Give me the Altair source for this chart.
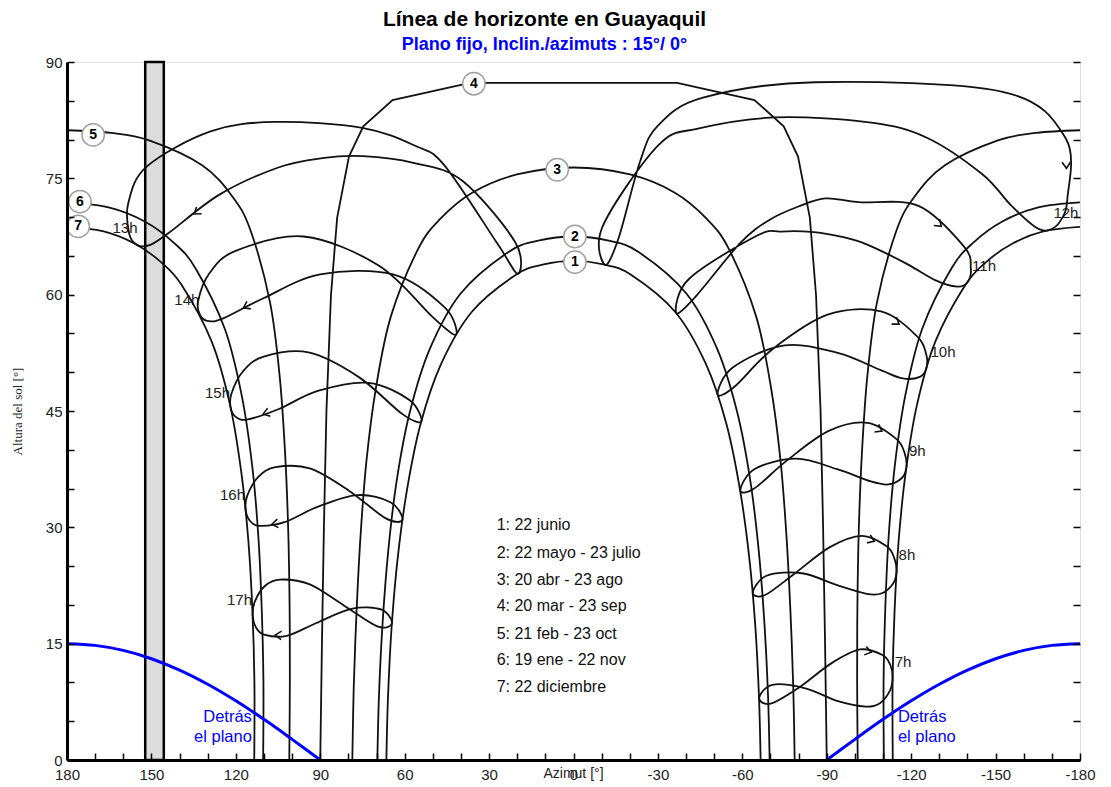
import altair as alt
import pandas as pd

# ---------------- values ----------------
# Day sun paths, afternoon half (azimuth in deg, sun height in deg).
# The morning half of every path is the mirror image (negative azimuths).
c1_az = [0, 10.6, 20.3, 36.1, 47.0, 54.3, 59.1, 62.4, 64.6, 65.9, 66.5]
c1_alt = [64.35, 63.9, 62.6, 57.8, 51.1, 43.4, 35.0, 26.3, 17.35, 8.3, 0]
c2_az = [0, 12.1, 23.1, 40.1, 51.1, 58.2, 62.8, 65.8, 67.8, 69.1, 69.7]
c2_alt = [67.5, 67.0, 65.5, 60.15, 52.97, 44.8, 36.1, 27.1, 17.9, 8.6, 0]
c3_az = [0, 20.1, 36.0, 47.3, 55.2, 64.9, 70.2, 73.6, 75.7, 77.1, 78.1, 78.6]
c3_alt = [76.4, 75.5, 73.15, 69.8, 65.9, 57.2, 48.0, 38.5, 28.8, 19.1, 9.35, 0]
c4_az = [36.8, 64.3, 74.7, 79.8, 84.0, 86.2, 87.8, 88.7, 89.4, 90.0]
c4_alt = [87.3, 85.1, 81.7, 77.8, 69.9, 59.9, 45.0, 30.0, 15.0, 0]
c5_az = [180, 164.4, 150.8, 132.0, 121.3, 114.8, 107.85, 104.4, 102.5, 101.4, 100.9, 100.8, 101.0]
c5_alt = [81.2, 80.86, 79.9, 76.7, 72.7, 68.3, 59.0, 49.4, 39.6, 29.85, 20.05, 10.2, 0]
c6_az = [180, 165.2, 152.4, 142.1, 134.3, 123.9, 117.9, 114.2, 112.0, 110.8, 110.2, 110.3]
c6_alt = [71.9, 71.25, 69.44, 66.72, 63.38, 55.58, 46.99, 38.0, 28.81, 19.5, 10.14, 0]
c7_az = [180, 167.3, 156.2, 146.8, 139.25, 128.65, 122.1, 118.1, 115.55, 114.1, 113.4, 113.46]
c7_alt = [68.75, 68.19, 66.63, 64.26, 61.25, 54.01, 45.85, 37.2, 28.27, 19.2, 10.05, 0]

# Hour lines (analemmas), points in calendar order starting at 21 December
h07_az = [-113.4, -112.5, -108.9, -103.8, -94.0, -82.4, -70.7, -66.0, -70.0, -79.9, -91.6, -101.8, -109.8, -112.6]
h07_alt = [10.6, 8.97, 7.33, 6.89, 7.59, 9.24, 9.70, 8.00, 7.26, 9.28, 12.46, 14.25, 13.54, 12.25]
h08_az = [-114.8, -113.6, -109.6, -104.2, -93.7, -81.2, -68.6, -63.7, -68.1, -78.5, -91.1, -102.5, -111.2, -114.0]
h08_alt = [24.29, 22.77, 21.5, 21.43, 22.54, 24.08, 23.76, 21.58, 21.27, 24.01, 27.45, 28.9, 27.58, 26.03]
h09_az = [-118.3, -116.7, -111.9, -105.7, -93.7, -79.1, -64.4, -59.3, -64.2, -75.9, -90.7, -104.5, -114.7, -117.7]
h09_alt = [37.72, 36.36, 35.53, 35.92, 37.5, 38.85, 37.53, 34.77, 35.0, 38.63, 42.43, 43.48, 41.4, 39.54]
h10_az = [-125.4, -123.1, -117.0, -109.4, -94.2, -75.0, -56.6, -51.2, -57.1, -70.8, -90.3, -109.3, -122.1, -125.3]
h10_alt = [50.5, 49.4, 49.2, 50.23, 52.46, 53.47, 50.61, 47.13, 48.1, 53.0, 57.42, 57.84, 54.63, 52.37]
h11_az = [-140.1, -136.4, -128.3, -118.3, -104.6, -95.9, -84.5, -73.8, -65.3, -41.1, -36.5, -43.3, -59.3,
          -69.6, -80.3, -89.7, -101.4, -122.6, -138.8, -141.2]
h11_alt = [61.64, 61.03, 61.91, 64.0, 66.43, 67.41, 68.1, 68.14, 67.62, 62.05, 57.63, 59.72, 66.67,
           69.64, 71.42, 72.41, 71.92, 71.45, 66.19, 63.42]
h12_az = [-168.9, -164.1, -155.6, -145.2, -125.4, -105.8, -72.2, -44.6, -30.1, -10.4, -11.2, -16.1, -23.6,
          -30.0, -46.0, -85.7, -152.5, -174.9, -175.5, -173.1]
h12_alt = [68.33, 68.73, 71.47, 75.55, 80.27, 82.18, 82.86, 81.44, 79.25, 68.84, 63.83, 67.37, 77.11,
           81.8, 85.4, 87.39, 86.16, 80.16, 72.34, 69.55]
h13_az = [155.0, 157.9, 158.2, 151.6, 129.0, 106.0, 75.1, 55.9, 45.8, 27.0, 19.8, 20.7, 39.5,
          56.9, 74.8, 89.3, 104.9, 125.7, 143.9, 150.4]
h13_alt = [66.39, 67.87, 71.84, 76.54, 81.06, 82.27, 81.51, 79.13, 76.64, 66.56, 62.67, 66.75, 74.69,
           77.0, 77.86, 77.6, 76.4, 72.93, 67.94, 66.42]
h14_az = [132.7, 133.4, 129.5, 120.1, 95.9, 69.1, 49.8, 41.8, 45.7, 64.1, 90.1, 110.2, 124.3, 129.6]
h14_alt = [57.35, 59.19, 62.69, 65.64, 67.5, 63.73, 57.03, 54.84, 58.32, 62.62, 62.61, 59.54, 56.97, 56.58]
h15_az = [121.8, 121.6, 117.5, 110.1, 94.2, 76.4, 60.9, 54.1, 58.3, 72.8, 90.6, 104.9, 115.7, 119.8]
h15_alt = [45.34, 47.2, 50.09, 52.02, 52.55, 49.4, 44.63, 43.63, 46.41, 48.63, 47.62, 45.23, 43.93, 44.18]
h16_az = [116.5, 116.0, 112.1, 106.0, 93.7, 79.8, 66.7, 60.8, 64.9, 76.8, 91.0, 102.7, 111.7, 115.0]
h16_alt = [32.22, 34.03, 36.46, 37.75, 37.6, 34.73, 31.15, 30.96, 33.2, 34.16, 32.64, 30.66, 30.19, 30.85]
h17_az = [114.0, 113.3, 109.7, 104.3, 93.7, 81.6, 69.7, 64.5, 68.4, 79.0, 91.4, 101.9, 110.0, 112.9]
h17_alt = [18.65, 20.39, 22.44, 23.27, 22.64, 19.93, 17.22, 17.62, 19.41, 19.5, 17.66, 16.01, 16.17, 17.13]

# Direction arrows on the hour lines
arrow_az = [-105.8, -106.9, -109.6, -115.7, -130.7, -175.2, 134.8, 117.3, 110.3, 107.2, 106.0]
arrow_alt = [13.9, 28.2, 42.4, 56.2, 68.8, 76.3, 70.4, 58.3, 44.6, 30.4, 16.1]
arrow_angle = [14, 23, 29, 35, 42, 88, 143, 153, 162, 172, 183]

# "Behind the plane" limit (west half; east half mirrors it)
behind_az = [180, 170, 160, 150, 140, 130, 120, 110, 100, 90]
behind_alt = [15.0, 14.78, 14.13, 13.06, 11.6, 9.77, 7.63, 5.24, 2.66, 0]

# Horizon obstacle (grey band)
obstacle_az_from = [152.2]
obstacle_az_to = [145.6]
obstacle_alt_to = [90]

# Hour labels
hour_text = ["7h", "8h", "9h", "10h", "11h", "12h", "13h", "14h", "15h", "16h", "17h"]
hour_az = [-117.1, -118.5, -122.2, -131.3, -145.9, -175.0, 159.4, 137.4, 126.5, 121.2, 118.7]
hour_alt = [12.6, 26.4, 39.8, 52.6, 63.7, 70.5, 68.6, 59.3, 47.3, 34.2, 20.6]

# Numbered day-curve markers
mark_text_num = ["1", "2", "3", "4", "5", "6", "7"]
mark_az = [-0.5, -0.5, 5.8, 35.4, 170.7, 175.4, 176.0]
mark_alt = [64.2, 67.5, 76.1, 87.2, 80.6, 72.0, 68.8]

# Legend of the day curves
legend_text = ["1: 22 junio", "2: 22 mayo - 23 julio", "3: 20 abr - 23 ago", "4: 20 mar - 23 sep",
               "5: 21 feb - 23 oct", "6: 19 ene - 22 nov", "7: 22 diciembre"]
legend_az = [27.3, 27.3, 27.3, 27.3, 27.3, 27.3, 27.3]
legend_alt = [30.3, 26.7, 23.2, 19.8, 16.3, 12.9, 9.45]

behind_label_west = ["Detrás", "el plano"]
behind_label_east = ["Detrás", "el plano"]
behind_label_az_west = [114.3, 114.3]
behind_label_az_east = [-115.3, -115.3]
behind_label_alt = [5.5, 2.97]

x_tick_labels = [180, 150, 120, 90, 60, 30, 0, -30, -60, -90, -120, -150, -180]
x_ticks_minor = [180, 170, 160, 150, 140, 130, 120, 110, 100, 90, 80, 70, 60, 50, 40, 30, 20, 10, 0,
                 -10, -20, -30, -40, -50, -60, -70, -80, -90, -100, -110, -120, -130, -140, -150,
                 -160, -170, -180]
y_tick_labels = [0, 15, 30, 45, 60, 75, 90]
y_ticks_minor = [0, 5, 10, 15, 20, 25, 30, 35, 40, 45, 50, 55, 60, 65, 70, 75, 80, 85, 90]


# ---------------- table building ----------------
def rows(g, az, el):
    return [{"g": g, "i": k, "az": a, "el": e} for k, (a, e) in enumerate(zip(az, el))]


def mirrored(az, el, shared_noon):
    am_az = [-a for a in reversed(az)]
    am_el = list(reversed(el))
    if shared_noon:
        return am_az + az[1:], am_el + el[1:]
    return am_az + az, am_el + el


def neg(values):
    return [-v for v in values]


white_df = pd.DataFrame(
    rows("mid", *mirrored(c1_az, c1_alt, True))
    + rows("left", c7_az, c7_alt)
    + rows("right", neg(c7_az), c7_alt)
)
day_df = pd.DataFrame(
    rows("c1", *mirrored(c1_az, c1_alt, True))
    + rows("c2", *mirrored(c2_az, c2_alt, True))
    + rows("c3", *mirrored(c3_az, c3_alt, True))
    + rows("c5pm", c5_az, c5_alt) + rows("c5am", neg(c5_az), c5_alt)
    + rows("c6pm", c6_az, c6_alt) + rows("c6am", neg(c6_az), c6_alt)
    + rows("c7pm", c7_az, c7_alt) + rows("c7am", neg(c7_az), c7_alt)
)
c4_df = pd.DataFrame(rows("c4", *mirrored(c4_az, c4_alt, False)))
hour_df = pd.DataFrame(
    rows("h07", h07_az, h07_alt) + rows("h08", h08_az, h08_alt) + rows("h09", h09_az, h09_alt)
    + rows("h10", h10_az, h10_alt) + rows("h11", h11_az, h11_alt) + rows("h12", h12_az, h12_alt)
    + rows("h13", h13_az, h13_alt) + rows("h14", h14_az, h14_alt) + rows("h15", h15_az, h15_alt)
    + rows("h16", h16_az, h16_alt) + rows("h17", h17_az, h17_alt)
)
blue_df = pd.DataFrame(rows("w", behind_az, behind_alt) + rows("e", neg(behind_az), behind_alt))
arrow_df = pd.DataFrame({"az": arrow_az, "el": arrow_alt, "ang": arrow_angle})
obst_df = pd.DataFrame({"a1": obstacle_az_from, "a2": obstacle_az_to, "e2": obstacle_alt_to, "e1": [0]})
hourlab_df = pd.DataFrame({"az": hour_az, "el": hour_alt, "t": hour_text})
marks_df = pd.DataFrame({"az": mark_az, "el": mark_alt, "t": mark_text_num})
legend_df = pd.DataFrame({"az": legend_az, "el": legend_alt, "t": legend_text})
bw_df = pd.DataFrame({"az": behind_label_az_west, "el": behind_label_alt, "t": behind_label_west})
be_df = pd.DataFrame({"az": behind_label_az_east, "el": behind_label_alt, "t": behind_label_east})

# ---------------- chart ----------------
FONT = "Liberation Sans"
LINE = "#111111"
LW = 1.8
xs = alt.Scale(domain=[180, -180], nice=False, zero=False)
ys = alt.Scale(domain=[0, 90], nice=False, zero=False)

x_main = alt.Axis(orient="bottom", values=x_tick_labels, labelExpr="'' + datum.value", ticks=False,
                  domain=True, domainColor="black", domainWidth=3, labelFont=FONT, labelFontSize=15,
                  labelColor="#222222", labelPadding=7, labelFlush=False, labelOverlap=False, grid=False,
                  title="Azimut [°]", titleFont=FONT, titleFontSize=14, titleFontWeight="normal",
                  titleColor="#222222", titleX=506, titleY=13, titleBaseline="middle", titleAlign="center",
                  zindex=2)
y_main = alt.Axis(orient="left", values=y_tick_labels, ticks=False, domain=True, domainColor="black",
                  domainWidth=3, labelFont=FONT, labelFontSize=15, labelColor="#222222", labelPadding=5,
                  labelFlush=False, labelOverlap=False, grid=False, title="Altura del sol [°]",
                  titleFont="Liberation Serif", titleFontSize=13, titleFontWeight="normal",
                  titleColor="#222222", titleX=-50, titleY=349, titleAngle=270, titleAlign="center",
                  titleBaseline="middle", zindex=2)
x_minor = alt.Axis(orient="bottom", offset=-7, values=x_ticks_minor, tickSize=7, tickWidth=1.5,
                   tickColor="black", labels=False, domain=False, grid=False, title="", zindex=2)
y_minor_l = alt.Axis(orient="left", offset=-7, values=y_ticks_minor, tickSize=7, tickWidth=1.5,
                     tickColor="black", labels=False, domain=False, grid=False, title="", zindex=2)
y_minor_r = alt.Axis(orient="right", offset=-7, values=y_ticks_minor, tickSize=7, tickWidth=1.5,
                     tickColor="black", labels=False, domain=False, grid=False, title="", zindex=2)


def X(axis=None, field="az"):
    return alt.X(f"{field}:Q", scale=xs, axis=axis)


def Y(axis=None, field="el"):
    return alt.Y(f"{field}:Q", scale=ys, axis=axis)


white = alt.Chart(white_df).mark_area(color="white", interpolate="cardinal", clip=True).encode(
    x=X(x_main), y=Y(y_main), y2=alt.datum(0), detail="g:N", order="i:Q")

obstacle = alt.Chart(obst_df).mark_rect(fill="#dcdcdc", stroke="black", strokeWidth=2.5).encode(
    x=X(x_minor, "a1"), x2="a2:Q", y=Y(y_minor_l, "e1"), y2="e2:Q")

hour_labels = alt.Chart(hourlab_df).mark_text(font=FONT, fontSize=15, color="#222222").encode(
    x=X(), y=Y(), text="t:N")

day_lines = alt.Chart(day_df).mark_line(color=LINE, strokeWidth=LW, interpolate="cardinal",
                                          clip=True).encode(x=X(), y=Y(), detail="g:N", order="i:Q")

c4_line = alt.Chart(c4_df).mark_line(color=LINE, strokeWidth=LW, clip=True).encode(
    x=X(), y=Y(), detail="g:N", order="i:Q")

hour_lines = alt.Chart(hour_df).mark_line(color=LINE, strokeWidth=LW, interpolate="cardinal-closed",
                                            clip=True).encode(x=X(), y=Y(), detail="g:N", order="i:Q")

blue = alt.Chart(blue_df).mark_line(color="#0000ff", strokeWidth=3, interpolate="cardinal", clip=True).encode(
    x=X(), y=Y(y_minor_r), detail="g:N", order="i:Q")

arrows = alt.Chart(arrow_df).mark_point(shape="M -1 -0.7 L 0 0 L -1 0.7", filled=False, color=LINE,
                                         strokeWidth=1.6, size=150, opacity=1).encode(
    x=X(), y=Y(), angle=alt.Angle("ang:Q", scale=None))

circles = alt.Chart(marks_df).mark_point(shape="circle", filled=True, fill="white", stroke="#a0a0a0",
                                          strokeWidth=1.5, size=500, opacity=1).encode(x=X(), y=Y())
circle_text = alt.Chart(marks_df).mark_text(font=FONT, fontSize=14, fontWeight="bold", color="black").encode(
    x=X(), y=Y(), text="t:N")

legend = alt.Chart(legend_df).mark_text(font=FONT, fontSize=16, align="left", baseline="middle",
                                        color="#111111").encode(x=X(), y=Y(), text="t:N")

blue_w = alt.Chart(bw_df).mark_text(font=FONT, fontSize=16.5, align="right", baseline="middle",
                                    color="#0000ff").encode(x=X(), y=Y(), text="t:N")
blue_e = alt.Chart(be_df).mark_text(font=FONT, fontSize=16.5, align="left", baseline="middle",
                                    color="#0000ff").encode(x=X(), y=Y(), text="t:N")

chart = alt.layer(
    white, obstacle, hour_labels, day_lines, c4_line, hour_lines, blue, arrows,
    circles, circle_text, legend, blue_w, blue_e
).resolve_axis(x="independent", y="independent").properties(
    width=1013, height=698,
    autosize=alt.AutoSizeParams(type="none"),
    padding={"left": 59, "top": 54, "right": 23, "bottom": 25},
    title=alt.TitleParams(
        text="Línea de horizonte en Guayaquil",
        subtitle="Plano fijo, Inclin./azimuts : 15°/ 0°",
        font=FONT, fontSize=21, fontWeight="bold", color="black",
        subtitleFont=FONT, subtitleFontSize=18, subtitleFontWeight="bold", subtitleColor="#0000ff",
        anchor="middle", dx=-29, offset=1, subtitlePadding=6,
    ),
).configure_view(fill="#ffff80", stroke="black", strokeWidth=1.5).configure(background="white")

chart.save("out.html", embed_options={"renderer": "svg", "actions": False})
